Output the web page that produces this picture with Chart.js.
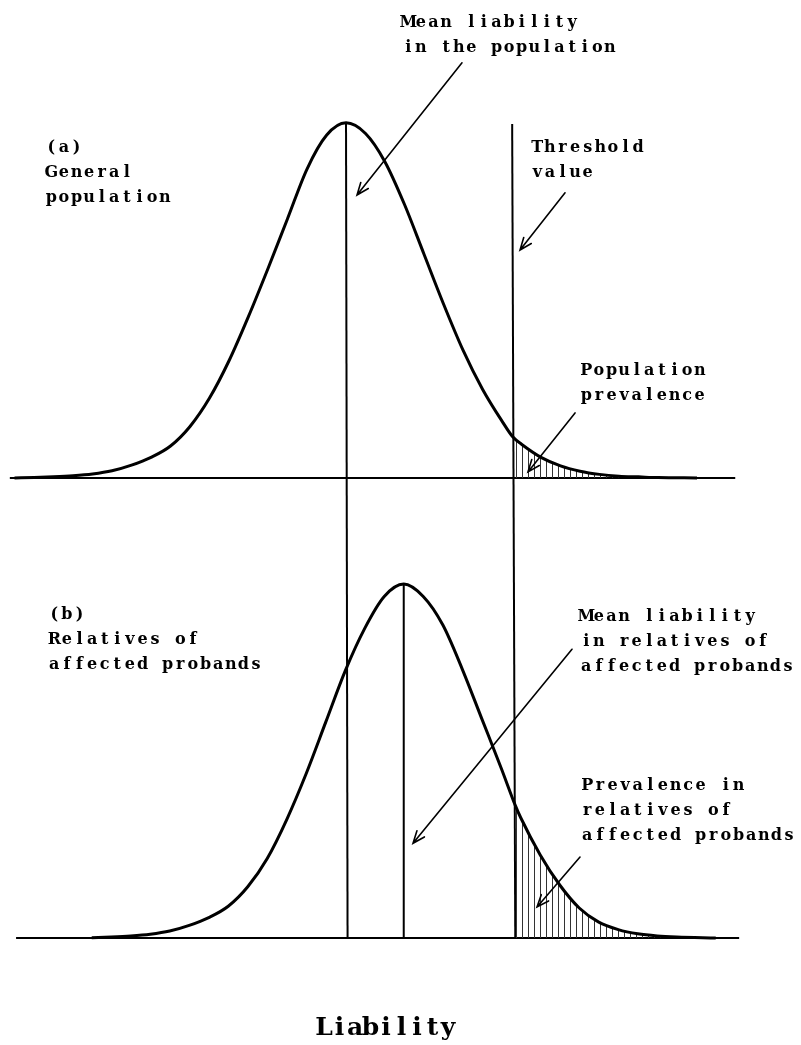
<!DOCTYPE html>
<html>
<head>
<meta charset="utf-8">
<script src="https://cdn.jsdelivr.net/npm/chart.js@4.4.1/dist/chart.umd.min.js"></script>
<style>
  html, body { margin: 0; padding: 0; background: #fff; }
  #wrap { width: 801px; height: 1045px; }
</style>
</head>
<body>
<div id="wrap"><canvas id="liabilityChart" width="801" height="1045"></canvas></div>
<script>
// Liability scale: 0 = population mean, 1 unit = one s.d. of liability
// Curve heights are relative to the peak (peak = 1)

// (a) general population
const popX = [-4.25, -4.0, -3.75, -3.5, -3.25, -3.0, -2.75, -2.5, -2.25, -2.0, -1.75, -1.5, -1.25, -1.0,
  -0.75, -0.5, -0.25, 0, 0.25, 0.5, 0.75, 1.0, 1.25, 1.5, 1.75, 2.0, 2.14, 2.25, 2.5, 2.75,
  3.0, 3.25, 3.5, 3.75, 4.0, 4.5];
const popY = [0, 0.001, 0.003, 0.006, 0.011, 0.02, 0.036, 0.058, 0.09, 0.145, 0.225, 0.33, 0.455, 0.59,
  0.73, 0.87, 0.965, 1.0, 0.97, 0.89, 0.77, 0.63, 0.49, 0.36, 0.25, 0.16, 0.115, 0.095, 0.058, 0.034,
  0.019, 0.010, 0.005, 0.003, 0.001, 0];

// (b) relatives of affected probands
const relX = [-3.26, -3.01, -2.76, -2.51, -2.26, -2.01, -1.76, -1.51, -1.26, -1.01, -0.76, -0.51, -0.26,
  -0.01, 0.24, 0.49, 0.74, 0.99, 1.24, 1.49, 1.74, 1.99, 2.17, 2.24, 2.49, 2.74, 2.99, 3.24,
  3.49, 3.74, 3.99, 4.24, 4.74];
const relY = [0.001, 0.003, 0.006, 0.011, 0.02, 0.036, 0.058, 0.09, 0.145, 0.225, 0.335, 0.465, 0.61,
  0.755, 0.875, 0.965, 1.0, 0.965, 0.885, 0.76, 0.62, 0.48, 0.375, 0.34, 0.235, 0.15, 0.085, 0.045,
  0.024, 0.012, 0.006, 0.003, 0];

const popMean = 0;
const relMean = 0.74;
const threshold = [2.14, 2.17];      // top / bottom (scan is slightly skewed)
const baselineA = [-4.31, 4.99];
const baselineB = [-4.23, 5.04];
const guideTop = 2.30;               // top of the long guide lines, on the (b) axis

// arrows: [fromX, fromY, toX, toY, axis]
const arrows = [
  [1.487, 1.169, 0.141, 0.797, 'yA'],
  [2.808, 0.803, 2.231, 0.642, 'yA'],
  [2.936, 0.183, 2.333, 0.017, 'yA'],
  [2.897, 0.816, 0.859, 0.268, 'yB'],
  [3.000, 0.229, 2.449, 0.088, 'yB']
];

// text blocks: lines, left x, first baseline
const labels = [
  { lines: ['Mean liability', 'in the population'], x: 402, y: 27 },
  { lines: ['(a)', 'General', 'population'], x: 45, y: 152 },
  { lines: ['Threshold', 'value'], x: 531, y: 152 },
  { lines: ['Population', 'prevalence'], x: 580, y: 375 },
  { lines: ['(b)', 'Relatives of', 'affected probands'], x: 48, y: 619 },
  { lines: ['Mean liability', 'in relatives of', 'affected probands'], x: 580, y: 621 },
  { lines: ['Prevalence in', 'relatives of', 'affected probands'], x: 581, y: 790 }
];
const axisTitle = 'Liability';

function toPoints(xs, ys) {
  return xs.map((x, i) => ({ x: x, y: ys[i] }));
}

function hatchPattern() {
  const c = document.createElement('canvas');
  c.width = 6; c.height = 4;
  const g = c.getContext('2d');
  g.fillStyle = '#333';
  g.fillRect(0, 0, 1, 4);
  return g.createPattern(c, 'repeat');
}

function drawMono(ctx, text, x, y, adv) {
  for (let i = 0; i < text.length; i++) {
    const ch = text[i];
    if (ch === ' ') continue;
    const w = ctx.measureText(ch).width;
    ctx.fillText(ch, x + i * adv + (adv - w) / 2, y);
  }
}

const annotations = {
  id: 'annotations',
  afterDatasetsDraw(chart) {
    const ctx = chart.ctx;
    const sx = chart.scales.x;
    ctx.save();
    ctx.strokeStyle = '#000';
    ctx.lineWidth = 1.6;
    ctx.lineCap = 'round';
    arrows.forEach(a => {
      const sy = chart.scales[a[4]];
      const x1 = sx.getPixelForValue(a[0]), y1 = sy.getPixelForValue(a[1]);
      const x2 = sx.getPixelForValue(a[2]), y2 = sy.getPixelForValue(a[3]);
      const ang = Math.atan2(y2 - y1, x2 - x1);
      const len = 13, spread = 0.38;
      ctx.beginPath();
      ctx.moveTo(x1, y1);
      ctx.lineTo(x2, y2);
      ctx.moveTo(x2 - len * Math.cos(ang - spread), y2 - len * Math.sin(ang - spread));
      ctx.lineTo(x2, y2);
      ctx.lineTo(x2 - len * Math.cos(ang + spread), y2 - len * Math.sin(ang + spread));
      ctx.stroke();
    });

    ctx.fillStyle = '#000';
    ctx.textBaseline = 'alphabetic';
    ctx.font = 'bold 16px "DejaVu Serif"';
    labels.forEach(l => {
      l.lines.forEach((t, i) => drawMono(ctx, t, l.x, l.y + i * 25, 12.6));
    });

    ctx.font = 'bold 25px "DejaVu Serif"';
    const adv = 15.5;
    drawMono(ctx, axisTitle, 386 - axisTitle.length * adv / 2, 1035, adv);
    ctx.restore();
  }
};

const line = (data, axis, width, extra) => Object.assign({
  data: data,
  yAxisID: axis,
  borderColor: '#000',
  borderWidth: width,
  pointRadius: 0,
  fill: false
}, extra || {});

const popPts = toPoints(popX, popY);
const relPts = toPoints(relX, relY);
const hatch = hatchPattern();

new Chart(document.getElementById('liabilityChart'), {
  type: 'line',
  data: {
    datasets: [
      line(popPts, 'yA', 3, { cubicInterpolationMode: 'monotone' }),
      line(relPts, 'yB', 3, { cubicInterpolationMode: 'monotone' }),
      line(popPts.filter(p => p.x >= threshold[0]), 'yA', 0,
        { cubicInterpolationMode: 'monotone', fill: 'origin', backgroundColor: hatch }),
      line(relPts.filter(p => p.x >= threshold[1]), 'yB', 0,
        { cubicInterpolationMode: 'monotone', fill: 'origin', backgroundColor: hatch }),
      line([{ x: baselineA[0], y: 0 }, { x: baselineA[1], y: 0 }], 'yA', 2),
      line([{ x: baselineB[0], y: 0 }, { x: baselineB[1], y: 0 }], 'yB', 2),
      line([{ x: popMean, y: guideTop }, { x: popMean + 0.02, y: 0 }], 'yB', 2),
      line([{ x: threshold[0] - 0.01, y: guideTop }, { x: threshold[1], y: 0 }], 'yB', 2),
      line([{ x: relMean, y: 1 }, { x: relMean, y: 0 }], 'yB', 2)
    ]
  },
  options: {
    responsive: false,
    animation: false,
    devicePixelRatio: 1,
    layout: { padding: 0 },
    plugins: { legend: { display: false }, tooltip: { enabled: false } },
    scales: {
      x: { type: 'linear', display: false, min: -4.436, max: 5.833 },
      yA: { type: 'linear', display: false, min: -1.597, max: 1.346 },
      yB: { type: 'linear', display: false, min: -0.302, max: 2.650 }
    }
  },
  plugins: [annotations]
});
</script>
</body>
</html>
